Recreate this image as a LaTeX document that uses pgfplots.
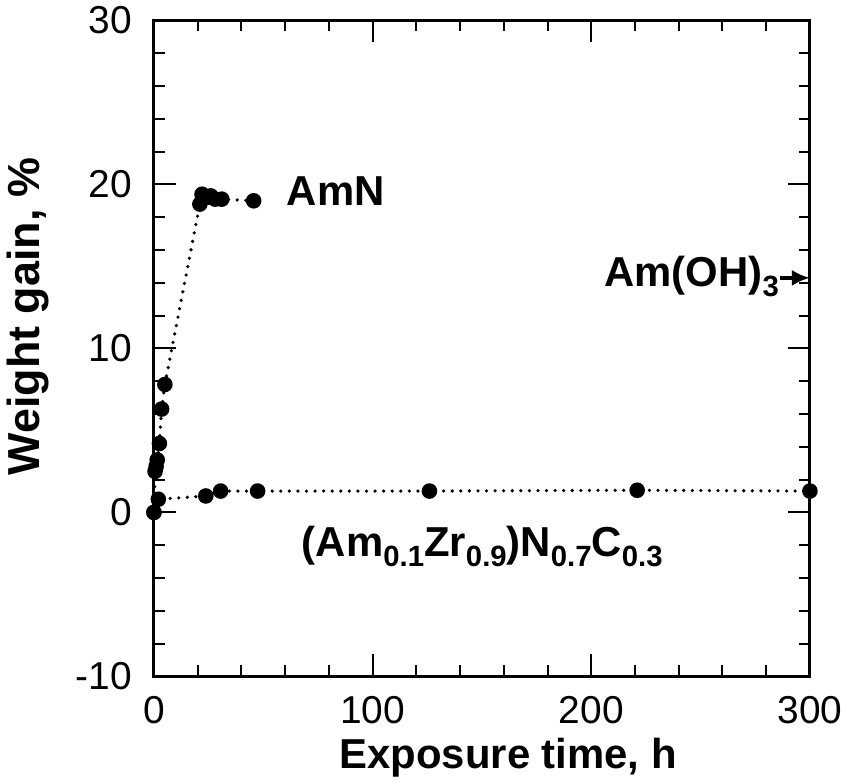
\documentclass[border=0pt]{standalone}
\usepackage{pgfplots}
\pgfplotsset{compat=1.18}
\usetikzlibrary{arrows.meta}
\usepackage{fontspec}
\setmainfont{Liberation Sans}
\newcommand{\sub}[1]{\raisebox{-5pt}{\fontsize{14.7}{15}\selectfont\bfseries #1}}
\begin{document}
\begin{tikzpicture}
\begin{axis}[
  scale only axis,
  width=329pt, height=329pt,
  xmin=0, xmax=300, ymin=-10, ymax=30,
  xtick={0,100,200,300}, ytick={-10,0,10,20,30},
  minor x tick num=4, minor y tick num=4,
  tick align=inside,
  major tick length=11pt, minor tick length=5.5pt,
  every tick/.style={black, line width=1pt},
  axis line style={line width=1.5pt},
  tick label style={font=\fontsize{19.5}{23}\selectfont},
  xticklabel style={yshift=-6.5pt},
  yticklabel style={xshift=-7.5pt},
  /pgf/number format/assume math mode=true,
  xlabel={\bfseries Exposure time, h},
  ylabel={\bfseries Weight gain, \%},
  xlabel style={font=\fontsize{21}{25}\selectfont, at={(axis description cs:0.540,-0.1398)}, anchor=base},
  ylabel style={font=\fontsize{22.5}{26}\selectfont, at={(axis description cs:-0.175,0.549)}, anchor=base},
  clip=false,
]
\addplot[black, line width=1.8pt, dash pattern=on 0pt off 4.3pt, line cap=round,
  mark=*, mark size=3pt, mark options={solid}] coordinates {
  (0,0) (0.5,2.5) (1,2.8) (1.5,3.2) (2.5,4.2) (3.5,6.3) (5,7.8)
  (21,18.8) (22,19.4) (24,19.2) (26,19.3) (28,19.1) (31,19.1) (45.6,19.0)
};
\addplot[black, line width=1.8pt, dash pattern=on 0pt off 4.3pt, line cap=round,
  mark=*, mark size=3pt, mark options={solid}] coordinates {
  (0,0) (2,0.8) (23.7,1.0) (30.5,1.3) (47.4,1.3) (126,1.3) (221,1.35) (300,1.3)
};
\node[anchor=base west, inner sep=0pt, font=\fontsize{21}{25}\selectfont\bfseries] at (axis cs:60.6,18.7) {AmN};
\node[anchor=base east, inner sep=0pt, font=\fontsize{21}{25}\selectfont\bfseries] at (axis cs:286,13.8) {Am(OH)\sub{3}};
\draw[-{Latex[length=9pt,width=8pt]}, line width=2pt] (axis cs:286.5,14.3) -- (axis cs:300,14.3);
\node[anchor=base west, inner sep=0pt, font=\fontsize{21}{25}\selectfont\bfseries] at (axis cs:67.5,-2.67) {(Am\sub{0.1}Zr\sub{0.9})N\sub{0.7}C\sub{0.3}};
\end{axis}
\end{tikzpicture}
\end{document}
